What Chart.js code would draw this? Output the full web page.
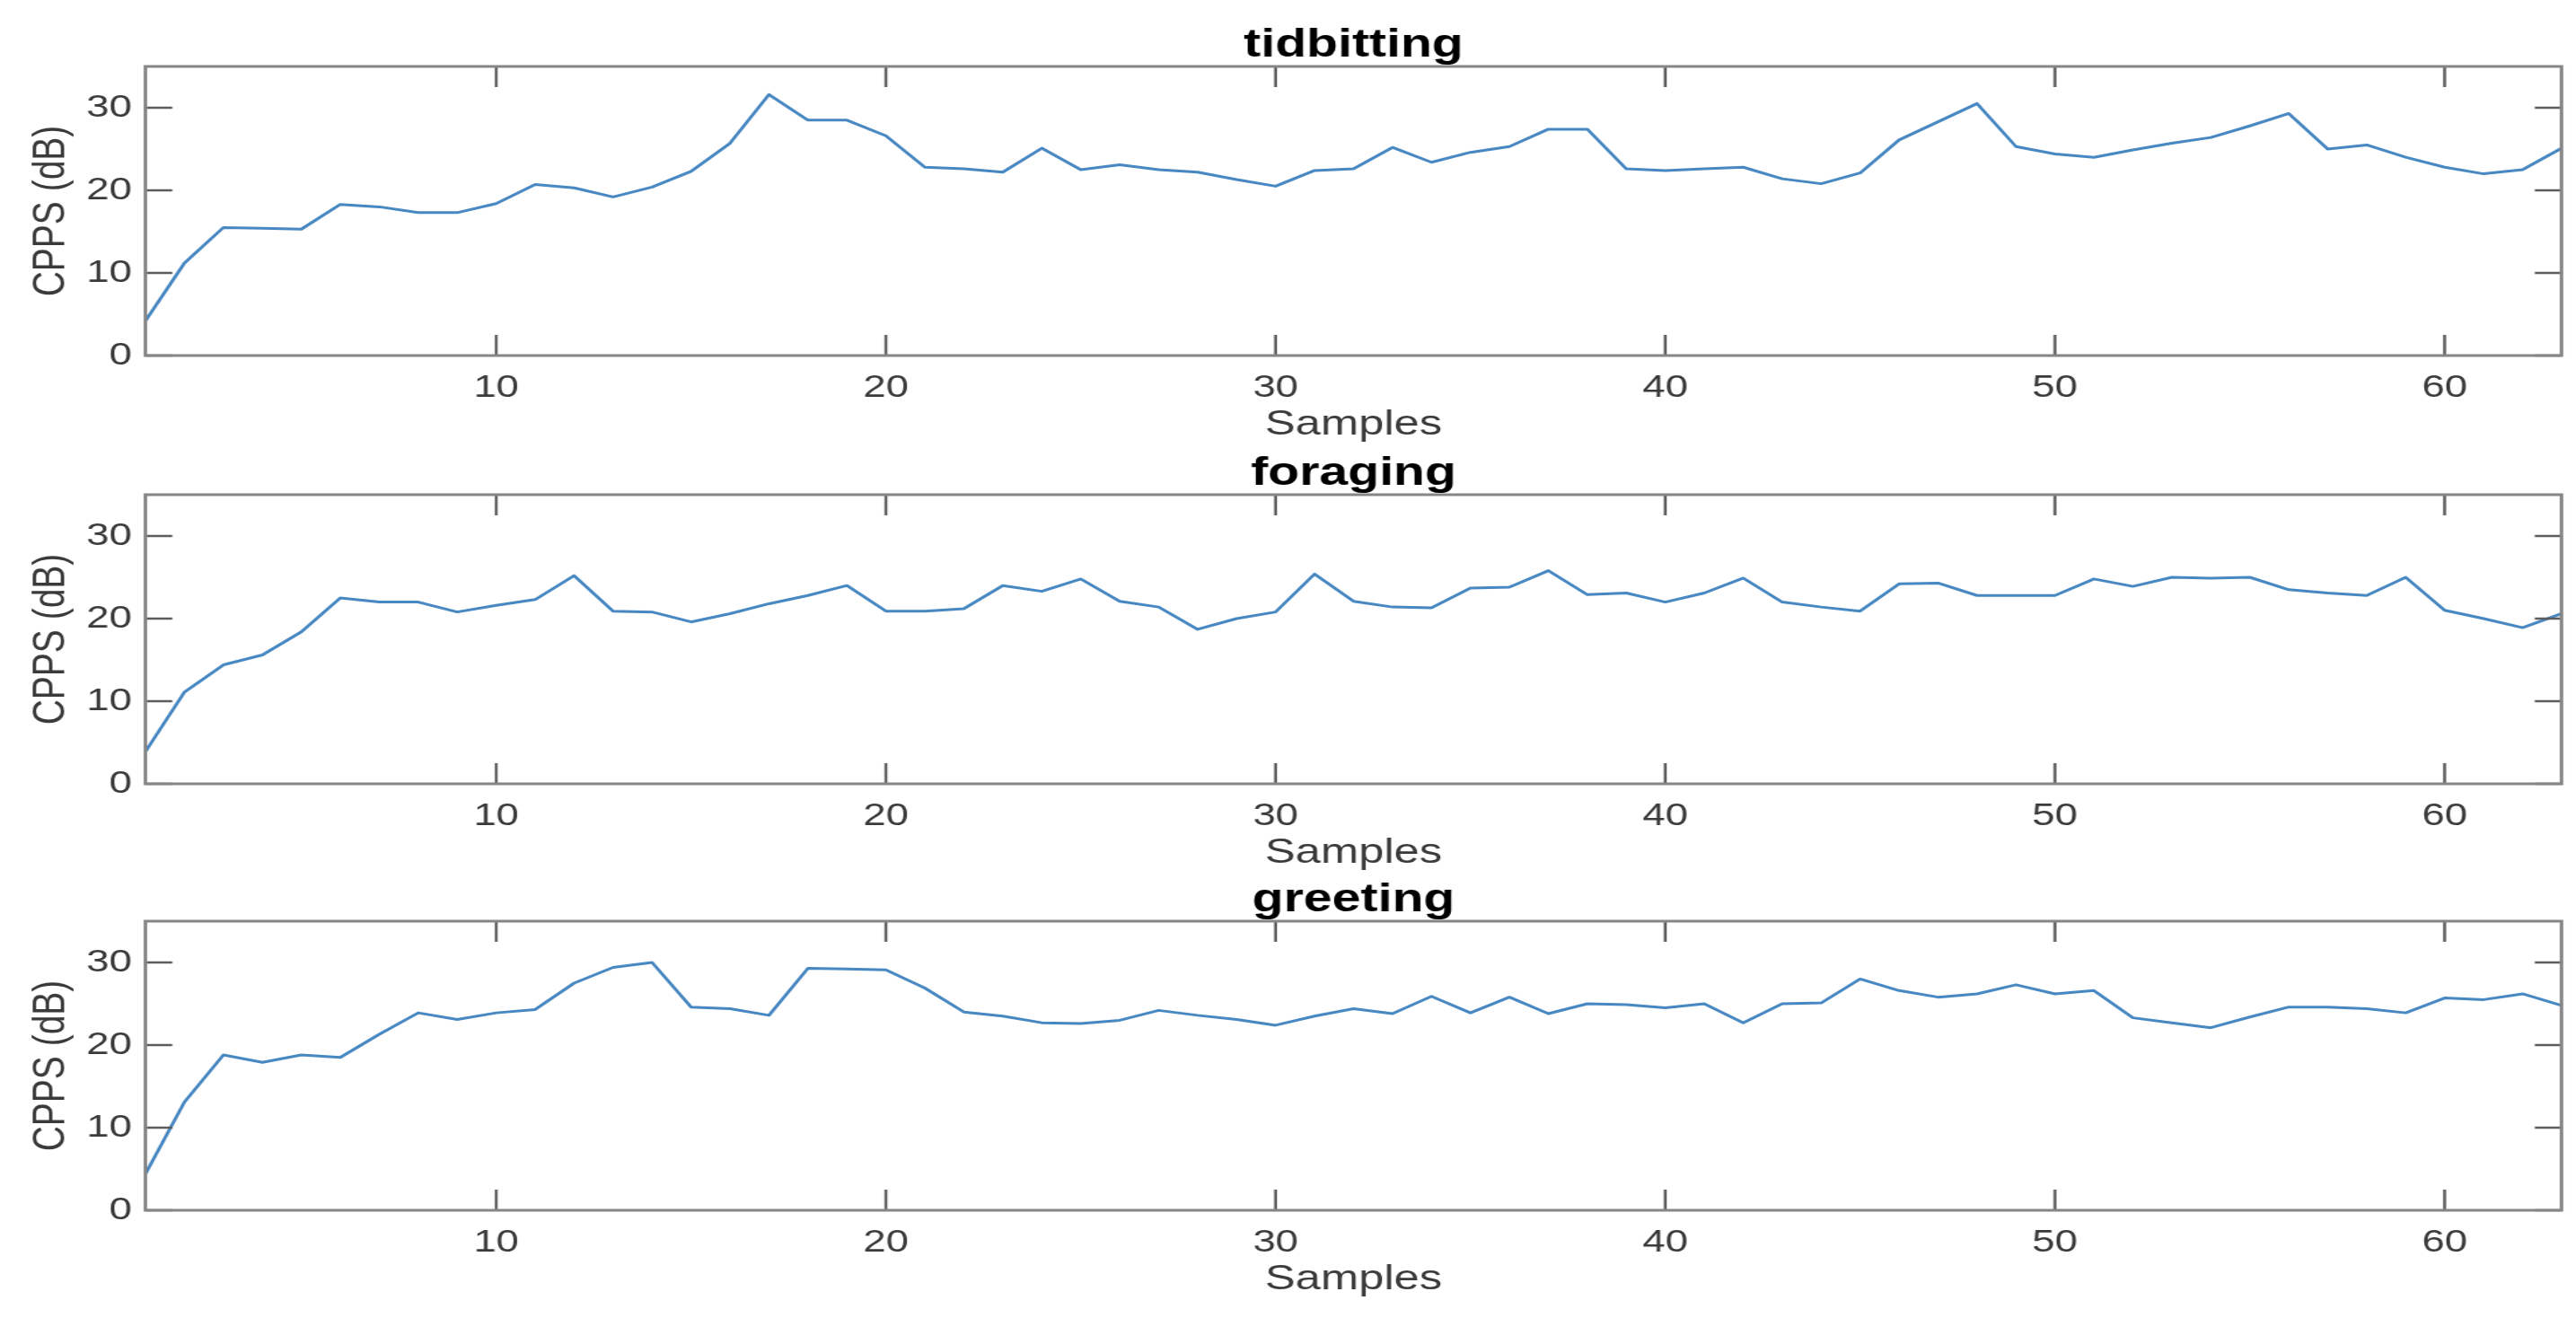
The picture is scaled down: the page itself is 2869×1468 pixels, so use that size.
<!DOCTYPE html>
<html>
<head>
<meta charset="utf-8">
<title>CPPS per sample</title>
<script src="https://cdn.jsdelivr.net/npm/chart.js@4.4.1/dist/chart.umd.min.js"></script>
<style>
  html, body { margin: 0; padding: 0; background: #ffffff; overflow: hidden; }
  #wrap { position: relative; width: 2869px; height: 1468px; }
  canvas { position: absolute; left: 0; }
</style>
</head>
<body>
<div id="wrap">
  <canvas id="panel0"></canvas>
  <canvas id="panel1"></canvas>
  <canvas id="panel2"></canvas>
</div>
<script>
// sample index (x axis)
const samples = [1, 2, 3, 4, 5, 6, 7, 8, 9, 10, 11, 12, 13, 14, 15, 16, 17, 18, 19, 20,
  21, 22, 23, 24, 25, 26, 27, 28, 29, 30, 31, 32, 33, 34, 35, 36, 37, 38, 39, 40,
  41, 42, 43, 44, 45, 46, 47, 48, 49, 50, 51, 52, 53, 54, 55, 56, 57, 58, 59, 60,
  61, 62, 63];

// CPPS (dB) per behaviour
const tidbitting = [4.2, 11.2, 15.5, 15.4, 15.3, 18.3, 18.0, 17.3, 17.3, 18.4,
  20.7, 20.3, 19.2, 20.4, 22.3, 25.7, 31.6, 28.5, 28.5, 26.6,
  22.8, 22.6, 22.2, 25.1, 22.5, 23.1, 22.5, 22.2, 21.3, 20.5,
  22.4, 22.6, 25.2, 23.4, 24.6, 25.3, 27.4, 27.4, 22.6, 22.4,
  22.6, 22.8, 21.4, 20.8, 22.1, 26.1, 28.3, 30.5, 25.3, 24.4,
  24.0, 24.9, 25.7, 26.4, 27.8, 29.3, 25.0, 25.5, 24.0, 22.8,
  22.0, 22.5, 25.1];
const foraging = [3.9, 11.1, 14.4, 15.6, 18.4, 22.5, 22.0, 22.0, 20.8, 21.6,
  22.3, 25.2, 20.9, 20.8, 19.6, 20.6, 21.8, 22.8, 24.0, 20.9,
  20.9, 21.2, 24.0, 23.3, 24.8, 22.1, 21.4, 18.7, 20.0, 20.8,
  25.4, 22.1, 21.4, 21.3, 23.7, 23.8, 25.8, 22.9, 23.1, 22.0,
  23.1, 24.9, 22.0, 21.4, 20.9, 24.2, 24.3, 22.8, 22.8, 22.8,
  24.8, 23.9, 25.0, 24.9, 25.0, 23.5, 23.1, 22.8, 25.0, 21.0,
  20.0, 18.9, 20.6];
const greeting = [4.4, 13.1, 18.8, 17.9, 18.8, 18.5, 21.3, 23.9, 23.1, 23.9,
  24.3, 27.5, 29.4, 30.0, 24.6, 24.4, 23.6, 29.3, 29.2, 29.1,
  26.9, 24.0, 23.5, 22.7, 22.6, 23.0, 24.2, 23.6, 23.1, 22.4,
  23.5, 24.4, 23.8, 25.9, 23.9, 25.8, 23.8, 25.0, 24.9, 24.5,
  25.0, 22.7, 25.0, 25.1, 28.0, 26.6, 25.8, 26.2, 27.3, 26.2,
  26.6, 23.3, 22.7, 22.1, 23.4, 24.6, 24.6, 24.4, 23.9, 25.7,
  25.5, 26.2, 24.8];

const titles = ['tidbitting', 'foraging', 'greeting'];
const series = [tidbitting, foraging, greeting];
const xTicks = [10, 20, 30, 40, 50, 60];
const yTicks = [0, 10, 20, 30];

// the source figure is stretched sideways, so draw narrow and widen with css
const STRETCH = 1.3;
const PAGE_W = 2869;
const CANVAS_H = 510;
const panelTops = [0, 477, 952];
const TICK_LEN = 23;

Chart.defaults.font.family = "'Liberation Sans', Arial, Helvetica, sans-serif";
Chart.defaults.color = '#333333';

// matlab style box with inward ticks on all four sides
const matlabBox = {
  id: 'matlabBox',
  afterDatasetsDraw(chart) {
    const { ctx, chartArea: a, scales: { x, y } } = chart;
    ctx.save();
    ctx.strokeStyle = '#5c5c5c';
    ctx.lineWidth = 2.5;
    ctx.beginPath();
    x.ticks.forEach(t => {
      const px = x.getPixelForValue(t.value);
      ctx.moveTo(px, a.bottom); ctx.lineTo(px, a.bottom - TICK_LEN);
      ctx.moveTo(px, a.top); ctx.lineTo(px, a.top + TICK_LEN);
    });
    y.ticks.forEach(t => {
      const py = y.getPixelForValue(t.value);
      ctx.moveTo(a.left, py); ctx.lineTo(a.left + TICK_LEN, py);
      ctx.moveTo(a.right, py); ctx.lineTo(a.right - TICK_LEN, py);
    });
    ctx.stroke();
    ctx.strokeStyle = '#868686';
    ctx.lineWidth = 3;
    ctx.strokeRect(a.left, a.top, a.right - a.left, a.bottom - a.top);
    ctx.restore();
  }
};

function drawPanel(idx) {
  const canvas = document.getElementById('panel' + idx);
  const w = Math.round(PAGE_W / STRETCH);
  canvas.width = w;
  canvas.height = CANVAS_H;
  canvas.style.top = panelTops[idx] + 'px';
  canvas.style.width = PAGE_W + 'px';
  canvas.style.height = CANVAS_H + 'px';

  const points = samples.map((s, i) => ({ x: s, y: series[idx][i] }));

  new Chart(canvas.getContext('2d'), {
    type: 'line',
    data: {
      datasets: [{
        data: points,
        borderColor: 'rgb(72, 136, 194)',
        borderWidth: 3,
        borderJoinStyle: 'round',
        pointRadius: 0,
        tension: 0,
        fill: false
      }]
    },
    options: {
      responsive: false,
      animation: false,
      layout: { padding: { left: 0, right: w - 2853 / STRETCH, top: 0, bottom: 0 } },
      plugins: {
        legend: { display: false },
        tooltip: { enabled: false },
        title: {
          display: true,
          text: titles[idx],
          fullSize: false,
          color: '#000000',
          font: { size: 44, weight: 'bold', lineHeight: 1 },
          padding: { top: 29, bottom: 1 }
        }
      },
      scales: {
        x: {
          type: 'linear',
          min: 1,
          max: 63,
          afterBuildTicks: s => { s.ticks = xTicks.map(v => ({ value: v })); },
          afterFit: s => { s.height = CANVAS_H - 396; },
          grid: { display: false, drawTicks: false },
          border: { display: false },
          ticks: { font: { size: 35 }, color: '#3a3a3a', padding: 15.5, maxRotation: 0 },
          title: {
            display: true,
            text: 'Samples',
            color: '#3a3a3a',
            font: { size: 39, lineHeight: 1.2 },
            padding: { top: 0, bottom: 13.6 }
          }
        },
        y: {
          min: 0,
          max: 35,
          afterBuildTicks: s => { s.ticks = yTicks.map(v => ({ value: v })); },
          afterFit: s => { s.width = 162 / STRETCH; },
          grid: { display: false, drawTicks: false },
          border: { display: false },
          ticks: { font: { size: 35 }, color: '#3a3a3a', padding: 11.6 },
          title: {
            display: true,
            text: 'CPPS (dB)',
            color: '#3a3a3a',
            font: { size: 39, lineHeight: 1.2 },
            padding: { top: 21.2, bottom: 0 }
          }
        }
      }
    },
    plugins: [matlabBox]
  });
}

titles.forEach((t, i) => drawPanel(i));
</script>
</body>
</html>
